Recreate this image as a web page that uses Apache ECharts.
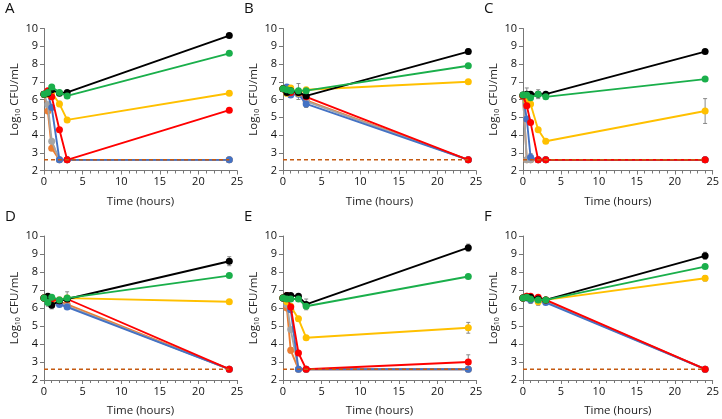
<!DOCTYPE html>
<html><head><meta charset="utf-8">
<script src="https://cdn.jsdelivr.net/npm/echarts@6/dist/echarts.min.js"></script>
<style>html,body{margin:0;padding:0;background:#fff}#c{width:722px;height:419px}</style>
</head><body><div id="c"></div>
<script>
const times = [0, 0.5, 1, 2, 3, 24];
const panelLabels = ['A', 'B', 'C', 'D', 'E', 'F'];
const detectionLimit = 2.6;
const yTicks = [2, 3, 4, 5, 6, 7, 8, 9, 10];
const xTicks = [0, 5, 10, 15, 20, 25];

// values per panel: order = times
const black  = [
  [6.3, 6.35, 6.55, 6.35, 6.4, 9.6],
  [6.6, 6.4, 6.5, 6.4, 6.2, 8.7],
  [6.25, 6.3, 6.3, 6.3, 6.3, 8.7],
  [6.55, 6.65, 6.15, 6.4, 6.5, 8.6],
  [6.55, 6.7, 6.7, 6.65, 6.2, 9.35],
  [6.55, 6.6, 6.6, 6.5, 6.45, 8.9]
];
const green  = [
  [6.3, 6.4, 6.7, 6.4, 6.2, 8.6],
  [6.6, 6.55, 6.5, 6.5, 6.5, 7.9],
  [6.25, 6.25, 6.1, 6.3, 6.15, 7.15],
  [6.55, 6.3, 6.6, 6.45, 6.55, 7.8],
  [6.55, 6.5, 6.5, 6.5, 6.1, 7.75],
  [6.55, 6.6, 6.5, 6.45, 6.45, 8.3]
];
const yellow = [
  [6.3, 6.3, 6.4, 5.75, 4.85, 6.35],
  [6.6, 6.35, 6.65, 6.35, 6.55, 7.0],
  [6.2, 5.9, 5.75, 4.3, 3.65, 5.35],
  [6.55, 6.45, 6.4, 6.45, 6.55, 6.35],
  [6.55, 6.35, 6.1, 5.4, 4.35, 4.9],
  [6.55, 6.6, 6.55, 6.35, 6.45, 7.65]
];
const red    = [
  [6.3, 6.5, 6.15, 4.3, 2.6, 5.4],
  [6.6, 6.5, 6.4, 6.4, 6.15, 2.6],
  [6.2, 5.65, 4.7, 2.6, 2.6, 2.6],
  [6.55, 6.5, 6.5, 6.4, 6.5, 2.6],
  [6.55, 6.7, 6.05, 3.5, 2.6, 3.0],
  [6.55, 6.65, 6.65, 6.6, 6.45, 2.6]
];
const blue   = [
  [6.3, 6.3, 5.55, 2.6, 2.6, 2.6],
  [6.6, 6.7, 6.25, 6.3, 5.75, 2.6],
  [6.2, 4.9, 2.75, 2.6, 2.6, 2.6],
  [6.55, 6.35, 6.3, 6.2, 6.05, 2.6],
  [6.55, 6.5, 5.9, 2.6, 2.6, 2.6],
  [6.55, 6.55, 6.45, 6.4, 6.3, 2.6]
];
const gray   = [
  [6.3, 5.7, 3.65, 2.6, 2.6, 2.6],
  [6.6, 6.45, 6.35, 6.35, 5.9, 2.6],
  [6.2, 2.6, 2.6, 2.6, 2.6, 2.6],
  [6.55, 6.4, 6.35, 6.3, 6.1, 2.6],
  [6.55, 6.2, 4.8, 2.6, 2.6, 2.6],
  [6.55, 6.6, 6.5, 6.45, 6.35, 2.6]
];
const orange = [
  [6.3, 5.35, 3.25, 2.6, 2.6, 2.6],
  [6.6, 6.4, 6.4, 6.35, 5.95, 2.6],
  [6.2, 2.6, 2.6, 2.6, 2.6, 2.6],
  [6.55, 6.45, 6.4, 6.35, 6.2, 2.6],
  [6.55, 6.0, 3.65, 2.6, 2.6, 2.6],
  [6.55, 6.65, 6.55, 6.5, 6.4, 2.6]
];
// error bars: [time, value, +/-]
const errors = [
  [[24, 9.6, 0.05], [24, 6.35, 0.12], [24, 5.4, 0.1], [1, 6.7, 0.12], [2, 5.75, 0.15], [0.5, 5.7, 0.15]],
  [[24, 8.7, 0.15], [2, 6.45, 0.45], [3, 5.75, 0.2], [0.5, 6.4, 0.2]],
  [[24, 5.35, 0.7], [0.5, 6.2, 0.45], [2, 6.3, 0.25], [1, 2.75, 0.2]],
  [[24, 8.6, 0.25], [1, 6.15, 0.2], [3, 6.55, 0.35], [0.5, 6.3, 0.2], [2, 6.4, 0.2]],
  [[24, 9.35, 0.2], [24, 4.9, 0.3], [24, 3.0, 0.4], [3, 6.2, 0.3], [2, 5.4, 0.12], [1, 3.65, 0.15], [0.5, 6.7, 0.15]],
  [[24, 8.9, 0.2], [24, 8.3, 0.1], [24, 7.65, 0.15], [1, 6.5, 0.25], [2, 6.4, 0.25]]
];

const colors = {
  black: '#000000', green: '#1aaf4b', yellow: '#ffc000', red: '#ff0000',
  blue: '#4472c4', gray: '#a5a5a5', orange: '#ed7d31', limit: '#c55a11'
};

const colLeft = [44, 283, 523];
const rowTop = [28.5, 236];
const gw = 193, gh = [142, 144];

const chart = echarts.init(document.getElementById('c'), null, {renderer: 'canvas'});
const grids = [], xAxes = [], yAxes = [], series = [], graphics = [];
const font = '"Open Sans", "Liberation Sans", sans-serif';

panelLabels.forEach((lab, i) => {
  const r = Math.floor(i / 3), c = i % 3;
  grids.push({left: colLeft[c], top: rowTop[r], width: gw, height: gh[r], containLabel: false});
  xAxes.push({
    gridIndex: i, type: 'value', min: 0, max: 25, interval: 5,
    name: 'Time (hours)', nameLocation: 'middle', nameGap: 25,
    nameTextStyle: {fontSize: 11.5, color: '#222', fontFamily: font},
    axisLine: {lineStyle: {color: '#777', width: 1}},
    axisTick: {show: true, inside: false, length: 4, lineStyle: {color: '#777'}},
    minorTick: {show: true, splitNumber: 5, length: 3, lineStyle: {color: '#777'}},
    splitLine: {show: false},
    axisLabel: {fontSize: 11, color: '#111', fontFamily: font, margin: 6}
  });
  yAxes.push({
    gridIndex: i, type: 'value', min: 2, max: 10, interval: 1,
    name: 'Log{s|10} CFU/mL', nameLocation: 'middle', nameGap: 23, nameRotate: 90,
    nameTextStyle: {fontSize: 11.5, color: '#222', fontFamily: font,
      rich: {s: {fontSize: 7, verticalAlign: 'bottom', padding: [5, 0, 0, 0], color: '#222', fontFamily: font}}},
    axisLine: {show: true, lineStyle: {color: '#777', width: 1}},
    axisTick: {show: true, inside: false, length: 4, lineStyle: {color: '#777'}},
    splitLine: {show: false},
    axisLabel: {fontSize: 11, color: '#111', fontFamily: font, margin: 6}
  });
  graphics.push({type: 'text', left: colLeft[c] - 39, top: rowTop[r] - 27,
    style: {text: lab, font: '15px ' + font, fill: '#111'}});

  const addLine = (name, arr, col, z) => {
    series.push({
      name: name, type: 'line', xAxisIndex: i, yAxisIndex: i,
      data: times.map((t, k) => [t, arr[i][k]]),
      symbol: 'circle', symbolSize: 7, z: z,
      lineStyle: {color: col, width: 1.9}, itemStyle: {color: col},
      animation: false
    });
  };
  series.push({
    type: 'custom', xAxisIndex: i, yAxisIndex: i, z: 1, animation: false,
    data: errors[i],
    renderItem: (params, api) => {
      const x = api.value(0), y = api.value(1), e = api.value(2);
      const p1 = api.coord([x, y + e]), p2 = api.coord([x, y - e]);
      const w = 2;
      return {type: 'group', children: [
        {type: 'line', shape: {x1: p1[0], y1: p1[1], x2: p2[0], y2: p2[1]}, style: {stroke: '#888', lineWidth: 1}},
        {type: 'line', shape: {x1: p1[0]-w, y1: p1[1], x2: p1[0]+w, y2: p1[1]}, style: {stroke: '#888', lineWidth: 1}},
        {type: 'line', shape: {x1: p2[0]-w, y1: p2[1], x2: p2[0]+w, y2: p2[1]}, style: {stroke: '#888', lineWidth: 1}}
      ]};
    }
  });
  addLine('orange', orange, colors.orange, 2);
  addLine('gray', gray, colors.gray, 3);
  addLine('blue', blue, colors.blue, 4);
  addLine('yellow', yellow, colors.yellow, 5);
  addLine('red', red, colors.red, 6);
  addLine('black', black, colors.black, 7);
  addLine('green', green, colors.green, 8);
  series.push({
    type: 'line', xAxisIndex: i, yAxisIndex: i, z: 9, animation: false,
    data: [[times[0], detectionLimit], [times[times.length - 1], detectionLimit]],
    symbol: 'none', lineStyle: {color: colors.limit, width: 1.5, type: [4, 3]}
  });
});

chart.setOption({
  animation: false,
  grid: grids, xAxis: xAxes, yAxis: yAxes, series: series, graphic: graphics
});
</script>
</body></html>
